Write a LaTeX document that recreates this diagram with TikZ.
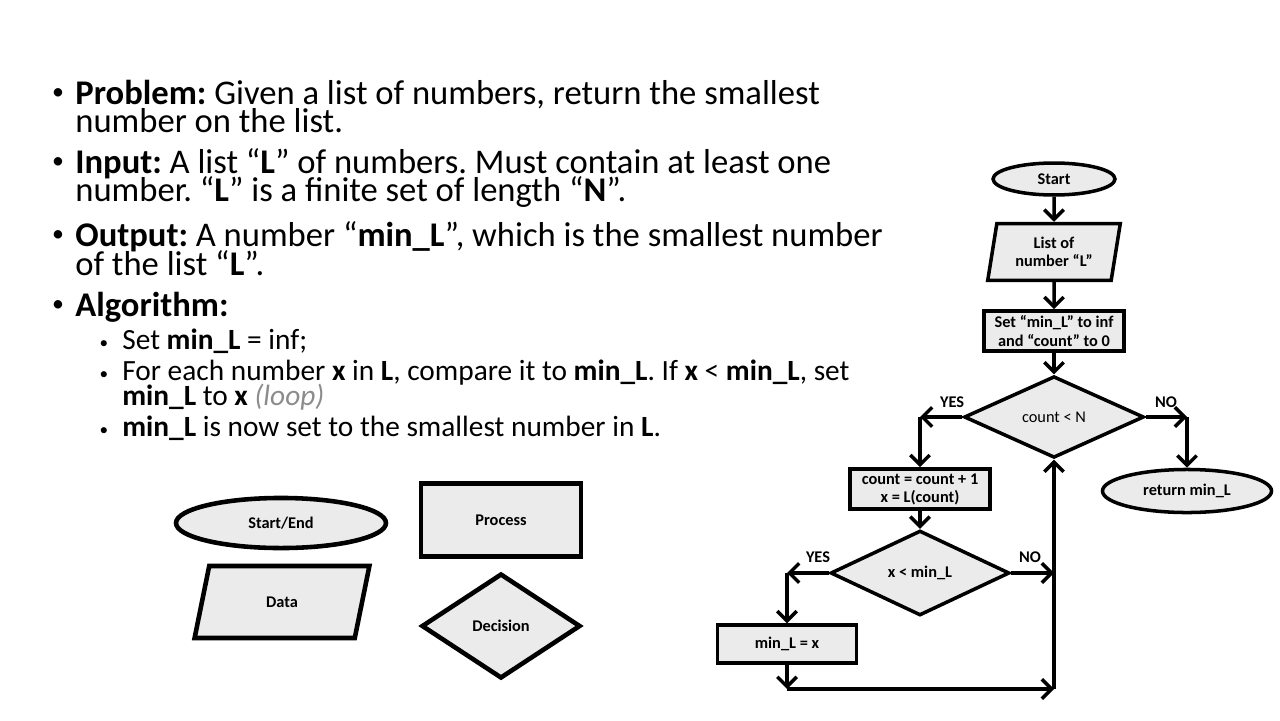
\documentclass[tikz,border=0pt]{standalone}
\usepackage{fontspec}
\setmainfont{Carlito}
\usetikzlibrary{positioning,arrows.meta,shapes.geometric}

\newcommand{\mainFont}{\fontsize{19.7}{22}\selectfont}
\newcommand{\subFont}{\fontsize{16.7}{19}\selectfont}
\newcommand{\chartFont}{\fontsize{9.3}{10.3}\selectfont\bfseries}
\newcommand{\chartFontReg}{\fontsize{9.3}{10.3}\selectfont}
\frenchspacing

\begin{document}
\begin{tikzpicture}[
  x=0.02cm, y=-0.02cm,
  shapeBase/.style={draw, fill=black!8, line width=2pt, inner sep=1pt,
                    align=center, font=\chartFont},
  termNode/.style={shapeBase, ellipse},
  procNode/.style={shapeBase, rectangle},
  dataNode/.style={shapeBase, trapezium, trapezium left angle=79,
                   trapezium right angle=101, trapezium stretches=true},
  decNode/.style={shapeBase, diamond},
  legendShape/.style={line width=2.6pt},
  flowLine/.style={line width=2pt, -{Straight Barb[length=5.5pt,width=11pt]}},
  branchLabel/.style={font=\chartFont, inner sep=0pt},
  lineText/.style={anchor=base west, inner sep=0pt, font=\mainFont},
  subText/.style={anchor=base west, inner sep=0pt, font=\subFont},
  bul/.style={anchor=base, inner sep=0pt}
]
  \useasboundingbox (0,0) rectangle (1280,720);

  % Text on the left
  \foreach \y in {99,168,241,311}
    \node[bul, font=\fontsize{13.6}{14}\selectfont] (mb\y) at (58,\y) {\textbullet};
  \foreach \y in {348.5,379.5,435.5}
    \node[bul, font=\fontsize{9.8}{10}\selectfont] (sb\y) at (104,\y) {\textbullet};

  \node[lineText] (p1) at (75,104) {\textbf{Problem:} Given a list of numbers, return the smallest};
  \node[lineText] (p2) at (75,132) {number on the list.};
  \node[lineText] (i1) at (75,173) {\textbf{Input:} A list “\textbf{L}” of numbers. Must contain at least one};
  \node[lineText] (i2) at (75,201) {number. “\textbf{L}” is a finite set of length “\textbf{N}”.};
  \node[lineText] (o1) at (75,246) {\textbf{Output:} A number “\textbf{min\_L}”, which is the smallest number};
  \node[lineText] (o2) at (75,275) {of the list “\textbf{L}”.};
  \node[lineText] (a1) at (75,316) {\textbf{Algorithm:}};
  \node[subText] (s1) at (122,349) {Set \textbf{min\_L} = inf;};
  \node[subText] (s2) at (122,380) {For each number \textbf{x} in \textbf{L}, compare it to \textbf{min\_L}. If \textbf{x} < \textbf{min\_L}, set};
  \node[subText] (s3) at (122,405) {\textbf{min\_L} to \textbf{x} {\color{black!45}\itshape (loop)}};
  \node[subText] (s4) at (122,436) {\textbf{min\_L} is now set to the smallest number in \textbf{L}.};

  % Legend
  \node[termNode, legendShape, minimum width=119.5pt, minimum height=28.5pt] (lgTerm) at (281,523) {Start/End};
  \node[procNode, legendShape, minimum width=91pt, minimum height=41.5pt] (lgProc) at (501,520) {Process};
  \node[dataNode, legendShape, trapezium left angle=76, trapezium right angle=104,
        minimum width=99.6pt, minimum height=41pt] (lgData) at (282,602) {Data};
  \node[decNode, legendShape, minimum width=90.5pt, minimum height=59.7pt] (lgDec) at (501,626) {Decision};

  % Flowchart
  \node[termNode, minimum width=69.4pt, minimum height=18.2pt] (start) at (1054,179) {Start};
  \node[dataNode, minimum width=75.7pt, minimum height=32.4pt] (list) at (1054,252) {List of\\number “L”};
  \node[procNode, minimum width=79.7pt, minimum height=22.8pt] (init) at (1054,331) {Set “min\_L” to inf\\and “count” to 0};
  \node[decNode, minimum width=102.4pt, minimum height=43.8pt, font=\chartFontReg] (cmp1) at (1054,417) {count < N};
  \node[procNode, minimum width=79.7pt, minimum height=22.8pt] (incr) at (920,489) {count = count + 1\\x = L(count)};
  \node[decNode, minimum width=101.9pt, minimum height=44.4pt] (cmp2) at (920,573) {x < min\_L};
  \node[procNode, minimum width=79pt, minimum height=21.6pt] (upd) at (787,644) {min\_L = x};
  \node[termNode, minimum width=96.2pt, minimum height=24.5pt] (ret) at (1187,491) {return min\_L};

  \coordinate (yes1) at (920,417);
  \coordinate (no1) at (1187,417);
  \coordinate (yes2) at (787,573);
  \coordinate (no2) at (1054,573);
  \coordinate (loopL) at (787,689);
  \coordinate (loopR) at (1054,689);

  \node[branchLabel] (yesA) at (952,402) {YES};
  \node[branchLabel] (noA) at (1166,402) {NO};
  \node[branchLabel] (yesB) at (818,557) {YES};
  \node[branchLabel] (noB) at (1030,557) {NO};

  \draw[flowLine] (start) -- (list);
  \draw[flowLine] (list) -- (init);
  \draw[flowLine] (init) -- (cmp1);
  \draw[flowLine] (cmp1.west) -- (yes1);
  \draw[flowLine] (yes1) -- (incr);
  \draw[flowLine] (cmp1.east) -- (no1);
  \draw[flowLine] (no1) -- (ret);
  \draw[flowLine] (incr) -- (cmp2);
  \draw[flowLine] (cmp2.west) -- (yes2);
  \draw[flowLine] (yes2) -- (upd);
  \draw[flowLine] (cmp2.east) -- (no2);
  \draw[flowLine] (upd) -- (loopL);
  \draw[flowLine] (loopL) -- (loopR);
  \draw[flowLine] (loopR) -- (cmp1.south);
\end{tikzpicture}
\end{document}
